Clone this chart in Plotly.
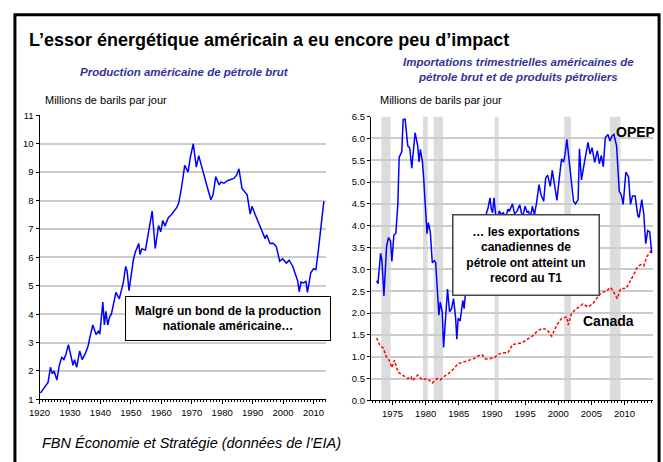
import plotly.graph_objects as go

# Production américaine de pétrole brut (millions de barils par jour)
prod_years = [1920.3, 1921.2, 1922.0, 1922.8, 1923.6, 1924.2, 1924.8, 1925.7, 1926.5, 1927.3,
              1928.0, 1928.7, 1929.5, 1930.3, 1931.0, 1931.5, 1932.2, 1933.2, 1934.0, 1935.0,
              1936.0, 1936.5, 1937.5, 1938.6, 1939.3, 1939.8, 1940.3, 1940.8, 1941.3, 1941.8,
              1942.4, 1943.0, 1943.6, 1944.3, 1945.1, 1946.2, 1946.8, 1947.5, 1948.3, 1948.8,
              1949.4, 1950.0, 1950.8, 1951.5, 1952.6, 1953.0, 1953.6, 1954.8, 1955.5, 1956.3,
              1957.0, 1958.0, 1959.1, 1959.8, 1960.5, 1961.2, 1962.3, 1963.3, 1965.0, 1965.7,
              1966.6, 1967.7, 1968.8, 1969.5, 1970.5, 1971.5, 1972.3, 1973.0, 1974.2, 1975.3,
              1976.3, 1977.0, 1977.9, 1979.0, 1979.6, 1980.6, 1981.7, 1983.8, 1984.8, 1985.5,
              1986.5, 1987.3, 1988.2, 1989.2, 1989.8, 1990.8, 1991.6, 1992.4, 1994.1, 1994.6,
              1995.7, 1996.8, 1997.8, 1998.9, 1999.8, 2001.1, 2002.0, 2003.2, 2004.8, 2005.3,
              2005.9, 2006.8, 2007.5, 2008.0, 2009.1, 2010.0, 2010.8, 2011.6, 2012.4, 2013.4]
prod_values = [1.22, 1.35, 1.5, 1.6, 2.13, 1.9, 2.0, 1.68, 2.2, 2.48,
               2.4, 2.6, 2.93, 2.5, 2.2, 2.4, 2.13, 2.71, 2.4, 2.6,
               2.9, 3.16, 3.62, 3.28, 3.4, 3.3, 3.8, 4.43, 3.62, 4.1,
               3.62, 3.9, 4.0, 4.4, 4.77, 4.54, 4.8, 5.1, 5.68, 5.5,
               4.83, 5.3, 5.9, 6.2, 6.49, 6.1, 6.3, 6.26, 6.7, 7.2,
               7.63, 6.31, 7.12, 6.9, 7.3, 7.1, 7.4, 7.5, 7.74, 7.9,
               8.43, 9.24, 9.0, 9.5, 10.0, 9.18, 9.58, 9.3, 8.78, 8.4,
               8.03, 8.2, 8.84, 8.55, 8.65, 8.61, 8.7, 8.78, 8.9, 9.12,
               8.43, 8.3, 8.2, 7.52, 7.8, 7.52, 7.3, 7.06, 6.66, 6.8,
               6.49, 6.5, 6.37, 5.86, 5.95, 5.8, 5.9, 5.68, 5.17, 4.79,
               5.13, 5.1, 5.17, 4.77, 5.46, 5.6, 5.57, 6.26, 7.06, 7.98]

# Importations trimestrielles : OPEP
opep_years = [1972.6, 1972.8, 1973.2, 1973.4, 1973.7, 1974.1, 1974.4, 1974.7, 1974.9, 1975.2,
              1975.5, 1975.8, 1976.0, 1976.4, 1976.6, 1976.9, 1977.3, 1977.6, 1977.9, 1978.2,
              1978.4, 1978.8, 1979.0, 1979.2, 1979.5, 1979.7, 1980.0, 1980.2, 1980.4, 1980.7,
              1981.0, 1981.3, 1981.5, 1981.8, 1982.0, 1982.2, 1982.5, 1982.7, 1983.0, 1983.3,
              1983.6, 1983.9, 1984.2, 1984.5, 1984.7, 1984.9, 1985.2, 1985.6, 1985.8, 1986.1,
              1986.5, 1987.0, 1987.5, 1988.0, 1988.5, 1989.1, 1989.4, 1989.7, 1989.9, 1990.1,
              1990.3, 1990.6, 1990.8, 1991.1, 1991.4, 1991.7, 1992.1, 1992.4, 1992.6, 1993.1,
              1993.4, 1993.8, 1994.2, 1994.6, 1995.0, 1995.3, 1995.5, 1995.8, 1996.1, 1996.4,
              1996.7, 1997.1, 1997.4, 1997.8, 1998.1, 1998.4, 1998.8, 1999.1, 1999.4, 1999.8,
              2000.1, 2000.5, 2000.8, 2001.0, 2001.3, 2001.5, 2002.0, 2002.3, 2002.6, 2003.0,
              2003.2, 2003.5, 2004.0, 2004.5, 2004.8, 2005.1, 2005.5, 2005.9, 2006.2, 2006.5,
              2006.8, 2007.1, 2007.5, 2007.8, 2008.1, 2008.4, 2008.8, 2009.2, 2009.5, 2009.8,
              2010.2, 2010.6, 2010.9, 2011.2, 2011.6, 2012.0, 2012.2, 2012.6, 2012.9, 2013.2,
              2013.5, 2013.8, 2014.1]
opep_values = [2.74, 2.67, 3.37, 3.2, 2.39, 3.52, 3.73, 3.65, 3.18, 3.78,
               3.83, 4.49, 5.57, 5.7, 6.43, 6.44, 5.83, 5.78, 5.32, 5.83,
               6.13, 5.83, 5.46, 5.75, 5.48, 5.08, 4.4, 3.82, 4.07, 3.86,
               3.15, 3.2, 3.16, 2.51, 1.95, 2.25, 2.02, 1.21, 1.9, 2.55,
               2.03, 2.1, 2.33, 1.92, 1.4, 1.88, 1.82, 2.29, 2.1, 2.62,
               3.0, 3.3, 3.6, 3.7, 3.95, 4.27, 4.4, 4.64, 4.38, 4.3,
               4.64, 4.2, 4.1, 4.34, 4.25, 4.3, 4.2, 4.38, 4.33, 4.5,
               4.27, 4.34, 4.48, 4.18, 4.45, 4.3, 4.34, 4.2, 4.45, 4.25,
               4.5, 4.94, 4.71, 4.56, 5.09, 5.16, 4.9, 5.27, 4.94, 4.58,
               5.01, 5.53, 5.46, 5.61, 5.98, 5.68, 5.01, 4.56, 4.5, 4.6,
               5.76, 5.05, 5.5, 5.91, 5.64, 5.79, 5.45, 5.72, 5.42, 5.61,
               5.35, 6.02, 6.09, 5.94, 6.05, 6.09, 5.83, 4.79, 4.71, 4.49,
               5.23, 5.12, 4.49, 4.68, 4.68, 4.23, 4.19, 4.6, 4.27, 3.59,
               3.89, 3.86, 3.37]

# Importations trimestrielles : Canada
canada_years = [1972.6, 1973.1, 1973.6, 1974.1, 1974.5, 1974.9, 1975.3, 1975.8, 1976.5, 1977.3,
                1977.8, 1978.0, 1978.8, 1979.5, 1980.2, 1981.0, 1981.7, 1982.2, 1982.7, 1983.5,
                1984.2, 1984.9, 1985.7, 1986.4, 1987.2, 1987.9, 1988.5, 1989.0, 1989.6, 1990.4,
                1990.9, 1991.6, 1992.4, 1993.1, 1993.8, 1994.6, 1995.3, 1996.1, 1996.8, 1997.6,
                1998.3, 1999.0, 1999.8, 2000.5, 2001.3, 2001.5, 2002.0, 2002.7, 2003.2, 2003.7,
                2004.5, 2005.2, 2005.9, 2006.5, 2007.2, 2007.9, 2008.4, 2008.9, 2009.4, 2010.2,
                2010.9, 2011.4, 2011.9, 2012.4, 2012.9, 2013.4, 2014.1]
canada_values = [1.43, 1.25, 1.2, 0.98, 0.92, 0.75, 0.92, 0.65, 0.58, 0.5,
                 0.54, 0.45, 0.58, 0.47, 0.5, 0.4, 0.5, 0.47, 0.54, 0.62,
                 0.72, 0.84, 0.88, 0.92, 0.95, 1.02, 1.05, 0.95, 0.95, 0.98,
                 1.05, 1.09, 1.09, 1.28, 1.3, 1.32, 1.4, 1.47, 1.58, 1.65,
                 1.62, 1.47, 1.73, 1.88, 1.91, 1.73, 1.99, 2.1, 2.14, 2.21,
                 2.14, 2.21, 2.36, 2.47, 2.5, 2.59, 2.47, 2.33, 2.56, 2.56,
                 2.74, 2.89, 3.04, 3.11, 3.08, 3.3, 3.45]

# Récessions (zones grisées)
recession_start = [1973.3, 1979.6, 1981.2, 1990.4, 2000.9, 2007.8]
recession_end = [1974.7, 1980.3, 1982.6, 1991.0, 2001.9, 2009.4]

W, H = 663, 462
sans = "Liberation Sans, Arial"
sub_color = "#333399"


def px_x(p):
    return p / W


def px_y(p):
    return 1 - p / H


fig = go.Figure()

fig.add_trace(go.Scatter(x=prod_years, y=prod_values, mode="lines",
                         line=dict(color="#0000ff", width=1.5),
                         xaxis="x", yaxis="y", hoverinfo="skip"))
fig.add_trace(go.Scatter(x=opep_years, y=opep_values, mode="lines",
                         line=dict(color="#0000ff", width=1.5),
                         xaxis="x2", yaxis="y2", hoverinfo="skip"))
fig.add_trace(go.Scatter(x=canada_years, y=canada_values, mode="lines",
                         line=dict(color="#ff0000", width=1.5, dash="3px,2px"),
                         xaxis="x2", yaxis="y2", hoverinfo="skip"))

for s, e in zip(recession_start, recession_end):
    fig.add_shape(type="rect", xref="x2", yref="y2", x0=s, x1=e, y0=0, y1=6.5,
                  fillcolor="#dcdcdc", line=dict(width=0), layer="below")

tick_font = dict(family=sans, size=9.5, color="black")
axis_common = dict(showline=True, linecolor="black", linewidth=1, zeroline=False,
                   ticks="outside", tickcolor="black", tickfont=tick_font)

fig.update_layout(
    width=W, height=H,
    margin=dict(l=0, r=0, t=0, b=0),
    plot_bgcolor="white", paper_bgcolor="white",
    showlegend=False,
    xaxis=dict(domain=[px_x(29), px_x(320)], range=[1920, 2014], anchor="y",
               tickvals=list(range(1920, 2011, 10)), ticklen=4, showgrid=False,
               minor=dict(ticks="outside", ticklen=2, dtick=1, tick0=1920, tickcolor="black"),
               **axis_common),
    yaxis=dict(domain=[px_y(403), px_y(112)], range=[1, 11], anchor="x", dtick=1, ticklen=3,
               showgrid=True, gridcolor="#cccccc", gridwidth=2, **axis_common),
    xaxis2=dict(domain=[px_x(366), px_x(653)], range=[1971.74, 2014.32], anchor="y2",
                tickvals=list(range(1975, 2011, 5)), ticklen=4, showgrid=False,
                minor=dict(ticks="outside", ticklen=2, dtick=0.5, tick0=1972, tickcolor="black"),
                **axis_common),
    yaxis2=dict(domain=[px_y(404), px_y(113.3)], range=[0, 6.5], anchor="x2", dtick=0.5,
                tickformat=".1f", ticklen=3, showgrid=True, gridcolor="#cccccc", gridwidth=2,
                **axis_common),
)

# cadre noir autour de l'ensemble
fig.add_shape(type="rect", xref="paper", yref="paper", x0=px_x(4), x1=px_x(659),
              y0=-0.05, y1=px_y(9), line=dict(color="black", width=3))

ann = [
    dict(text="<b>L’essor énergétique américain a eu encore peu d’impact</b>",
         x=px_x(16), y=px_y(35), xanchor="left", font=dict(family=sans, size=18, color="black")),
    dict(text="<b><i>Production américaine de pétrole brut</i></b>",
         x=px_x(176), y=px_y(68), font=dict(family=sans, size=11.5, color=sub_color)),
    dict(text="<b><i>Importations trimestrielles américaines de<br>pétrole brut et de produits pétroliers</i></b>",
         x=px_x(516), y=px_y(65), font=dict(family=sans, size=11.5, color=sub_color)),
    dict(text="Millions de barils par jour", x=px_x(33), y=px_y(96), xanchor="left",
         font=dict(family=sans, size=11, color="black")),
    dict(text="Millions de barils par jour", x=px_x(373), y=px_y(96), xanchor="left",
         font=dict(family=sans, size=11, color="black")),
    dict(text="<i>FBN Économie et Stratégie (données de l’EIA)</i>", x=px_x(29), y=px_y(448),
         xanchor="left", font=dict(family=sans, size=14.5, color="black")),
    dict(text="<b>Malgré un bond de la production<br>nationale américaine…</b>",
         x=px_x(221), y=px_y(320.5), width=196, height=35, borderpad=4,
         bordercolor="black", borderwidth=1, bgcolor="white",
         font=dict(family=sans, size=12, color="black")),
    dict(text="<b>… les exportations<br>canadiennes de<br>pétrole ont atteint un<br>record au T1</b>",
         x=px_x(524), y=px_y(255), width=137, height=71, borderpad=4,
         bordercolor="#444444", borderwidth=1.5, bgcolor="white",
         font=dict(family=sans, size=12, color="black")),
    dict(text="<b>OPEP</b>", x=px_x(635), y=px_y(129),
         font=dict(family=sans, size=14, color="black")),
    dict(text="<b>Canada</b>", x=px_x(608), y=px_y(323),
         font=dict(family=sans, size=14, color="black")),
]
for a in ann:
    a.setdefault("xanchor", "center")
    fig.add_annotation(xref="paper", yref="paper", yanchor="middle", showarrow=False, **a)

# la page n'ajoute pas de marge autour du graphique, et pas de barre d'outils
fig.write_html("out.html", config={"displayModeBar": False},
               post_script="document.body.style.margin='0';")
